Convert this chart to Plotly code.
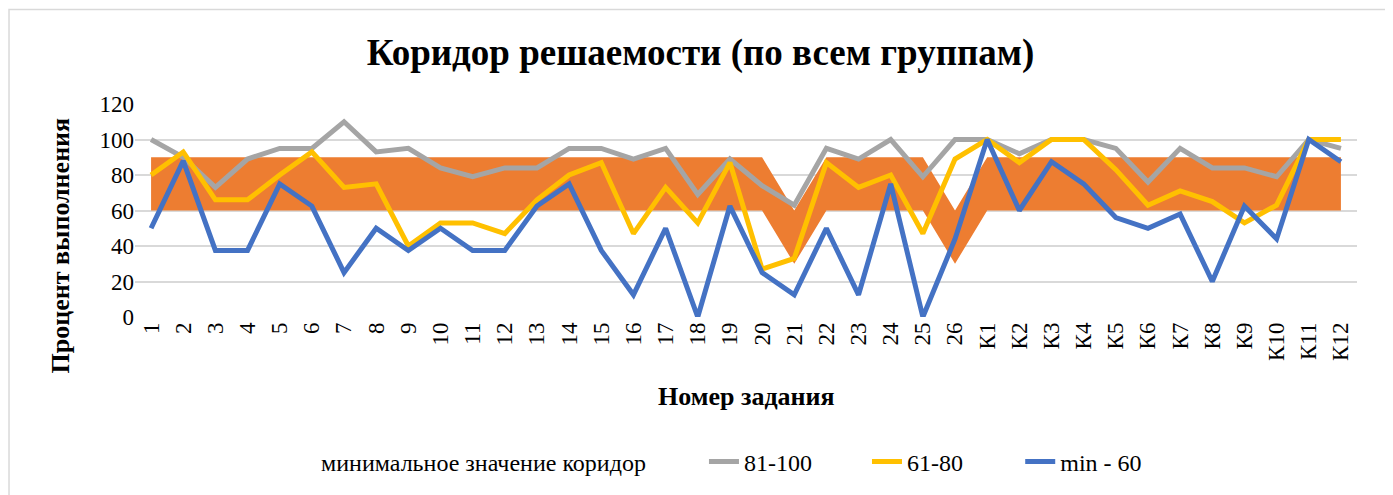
import plotly.graph_objects as go

categories = [str(i) for i in range(1, 27)] + ["К" + str(i) for i in range(1, 13)]

corridor_min = [60]*20 + [30] + [60]*4 + [30] + [60]*12
corridor_max = [90]*20 + [60] + [90]*4 + [60] + [90]*12

s81_100 = [100, 90, 73, 89, 95, 95, 110, 93, 95, 84, 79, 84, 84,
           95, 95, 89, 95, 69, 89, 74, 63, 95, 89, 100, 79, 100,
           100, 92, 100, 100, 95, 76, 95, 84, 84, 79, 100, 95]
s61_80 = [80, 93, 66, 66, 80, 93, 73, 75, 40, 53, 53, 47, 66,
          80, 87, 47, 73, 53, 87, 27, 33, 87, 73, 80, 47, 89,
          100, 87, 100, 100, 83, 63, 71, 65, 53, 63, 100, 100]
s_min_60 = [50, 88, 37.5, 37.5, 75, 62.5, 25, 50, 37.5, 50, 37.5, 37.5, 62.5,
            75, 37.5, 12.5, 50, 0, 62.5, 25, 12.5, 50, 12.5, 75, 0, 44,
            100, 60, 87.5, 75, 56, 50, 58, 20, 62.5, 44, 100, 87.5]

FONT = "Liberation Serif, Times New Roman, serif"
LW = 5

fig = go.Figure()
fig.add_trace(go.Scatter(x=categories, y=corridor_min, mode="lines",
                         line=dict(width=0, color="rgba(0,0,0,0)"),
                         showlegend=False, hoverinfo="skip"))
fig.add_trace(go.Scatter(x=categories, y=corridor_max, mode="lines",
                         line=dict(width=0, color="#ED7D31"),
                         fill="tonexty", fillcolor="#ED7D31",
                         showlegend=False, name="коридор"))
fig.add_trace(go.Scatter(x=[None], y=[None], mode="lines",
                         line=dict(width=0, color="rgba(0,0,0,0)"),
                         name="минимальное значение коридор", legend="legend"))
fig.add_trace(go.Scatter(x=categories, y=s81_100, mode="lines",
                         line=dict(color="#A5A5A5", width=LW), name="81-100",
                         legend="legend2"))
fig.add_trace(go.Scatter(x=categories, y=s61_80, mode="lines",
                         line=dict(color="#FFC000", width=LW), name="61-80",
                         legend="legend3"))
fig.add_trace(go.Scatter(x=categories, y=s_min_60, mode="lines",
                         line=dict(color="#4472C4", width=LW), name="min - 60",
                         legend="legend4"))

LEG_Y = -0.672


def leg(x):
    return dict(orientation="h", x=x, xanchor="left", y=LEG_Y, yanchor="middle",
                font=dict(family=FONT, size=24), bgcolor="rgba(0,0,0,0)")


fig.update_layout(
    width=1385, height=487,
    margin=dict(l=127, r=36, t=96, b=177),
    paper_bgcolor="white", plot_bgcolor="white",
    font=dict(family=FONT, size=23, color="black"),
    title=dict(text="<b>Коридор решаемости (по всем группам)</b>",
               x=0.5, xanchor="center", y=0.9086, yanchor="middle",
               font=dict(family=FONT, size=37, color="black")),
    xaxis=dict(type="category", range=[-0.5, 37.5], tickangle=-90,
               showgrid=False, showline=False, ticks="", automargin=False,
               tickfont=dict(family=FONT, size=23)),
    yaxis=dict(range=[0, 120], dtick=20, showgrid=True, gridcolor="#D9D9D9",
               gridwidth=1.5, zeroline=False, showline=False, ticks="",
               automargin=False, tickfont=dict(family=FONT, size=23)),
    legend=leg(0.1195),
    legend2=leg(0.4656),
    legend3=leg(0.5990),
    legend4=leg(0.7244),
    annotations=[
        dict(text="<b>Номер задания</b>", xref="paper", yref="paper",
             x=0.5008, y=-0.374, xanchor="center", yanchor="middle", showarrow=False,
             font=dict(family=FONT, size=26)),
        dict(text="<b>Процент выполнения</b>", xref="paper", yref="paper",
             x=-0.0614, y=0.336, xanchor="center", yanchor="middle", showarrow=False,
             textangle=-90, font=dict(family=FONT, size=26)),
    ],
    shapes=[dict(type="rect", xref="paper", yref="paper",
                 x0=-0.1031, x1=1.0254, y0=-0.85, y1=1.444,
                 line=dict(color="#D9D9D9", width=1.5), fillcolor="rgba(0,0,0,0)",
                 layer="below")],
)

fig.write_html("out.html")
